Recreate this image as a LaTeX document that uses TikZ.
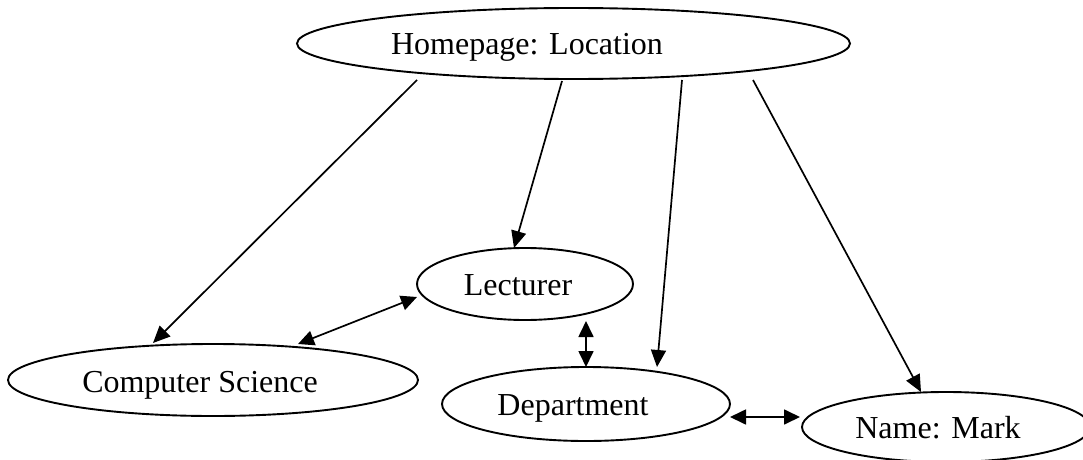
\documentclass[tikz,border=0pt]{standalone}
\usepackage{fontspec}
\setmainfont{Liberation Serif}
\usetikzlibrary{shapes.geometric,arrows.meta,calc}
\begin{document}
\begin{tikzpicture}[x=1pt,y=1pt,
  ell/.style={draw,ellipse,line width=1.9pt,inner sep=0pt,outer sep=0pt},
  lbl/.style={anchor=base,inner sep=0pt,font=\fontsize{32}{38}\selectfont},
  arr/.style={line width=1.7pt,-{Triangle[length=17pt,width=15pt]}},
  darr/.style={line width=1.7pt,{Triangle[length=16pt,width=15pt]}-{Triangle[length=16pt,width=15pt]}}]
\useasboundingbox (0,0) rectangle (1083,459);
% ellipses
\node[ell,minimum width=553pt,minimum height=71pt] (hp) at (573.5,415.5) {};
\node[ell,minimum width=216pt,minimum height=72pt] (lec) at (525,175) {};
\node[ell,minimum width=410pt,minimum height=72pt] (cs) at (213,79) {};
\node[ell,minimum width=288pt,minimum height=74pt] (dep) at (586,55) {};
\node[ell,minimum width=288pt,minimum height=70pt] (nm) at (946,32) {};
% labels
\node[lbl] (hpT) at (527,404) {Homepage: Location};
\node[lbl] (lecT) at (518,164) {Lecturer};
\node[lbl] (csT) at (200,67) {Computer Science};
\node[lbl] (depT) at (573,44) {Department};
\node[lbl] (nmT) at (938,21) {Name: Mark};
% connectors
\draw[arr] ($(hp)+(-156.5,-36.5)$) -- ($(cs)+(-60,37)$);
\draw[arr] ($(hp)+(-11.5,-37.5)$) -- ($(lec)+(-11,36)$);
\draw[arr] ($(hp)+(108.5,-36.5)$) -- ($(dep)+(71,37)$);
\draw[arr] ($(hp)+(179.5,-36.5)$) -- ($(nm)+(-25,35)$);
\draw[darr] ($(cs)+(85,36)$) -- ($(lec)+(-108,-13)$);
\draw[darr] ($(lec)+(61,-37)$) -- ($(dep)+(0,37)$);
\draw[darr] ($(dep)+(144,-13)$) -- ($(nm)+(-146,10)$);
\end{tikzpicture}
\end{document}
